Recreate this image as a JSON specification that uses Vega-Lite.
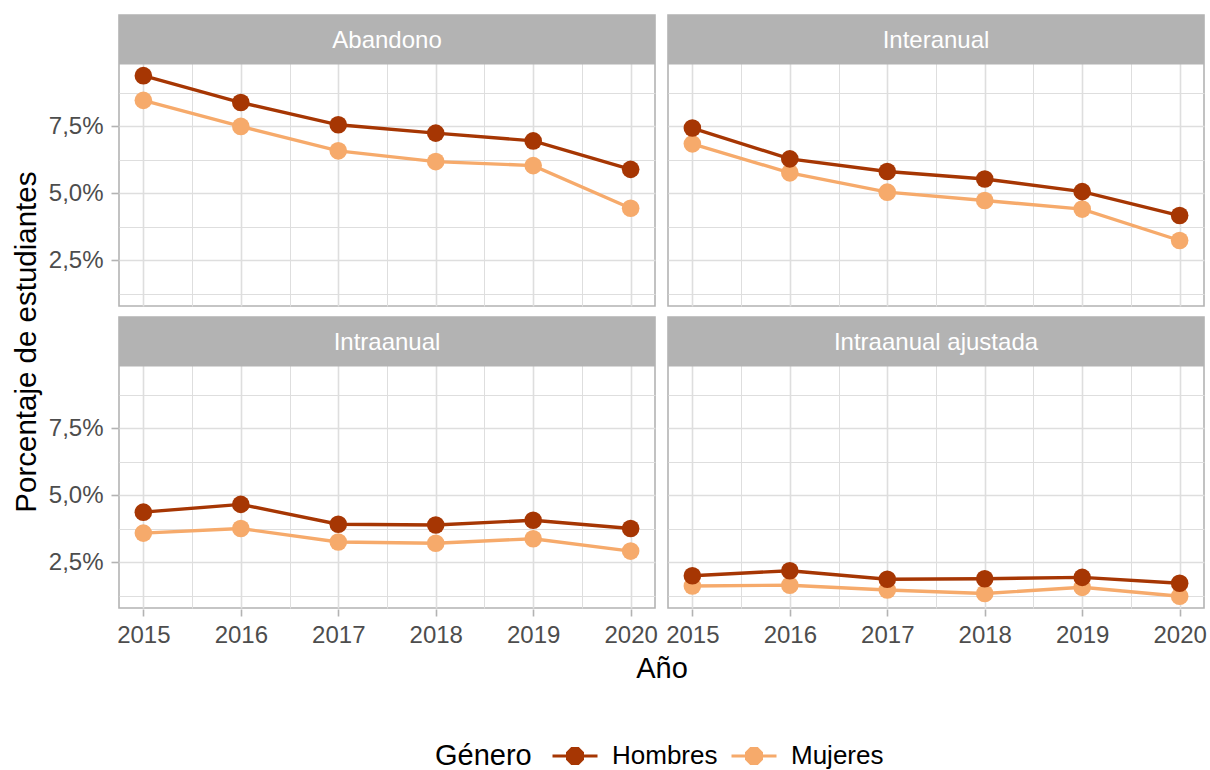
{
  "$schema": "https://vega.github.io/schema/vega-lite/v6.json",
  "padding": {"left": 11, "top": 13, "right": 5, "bottom": 0},
  "background": "white",
  "title": {"text": "Porcentaje de estudiantes", "orient": "left", "anchor": "middle", "fontSize": 29.5, "fontWeight": "normal", "color": "black", "offset": 6, "dx": 50},
  "data": {"values": [
    {"tasa": "Abandono", "genero": "Mujeres", "year": 2015, "valor": 8.46},
    {"tasa": "Abandono", "genero": "Mujeres", "year": 2016, "valor": 7.49},
    {"tasa": "Abandono", "genero": "Mujeres", "year": 2017, "valor": 6.58},
    {"tasa": "Abandono", "genero": "Mujeres", "year": 2018, "valor": 6.18},
    {"tasa": "Abandono", "genero": "Mujeres", "year": 2019, "valor": 6.03},
    {"tasa": "Abandono", "genero": "Mujeres", "year": 2020, "valor": 4.44},
    {"tasa": "Interanual", "genero": "Mujeres", "year": 2015, "valor": 6.84},
    {"tasa": "Interanual", "genero": "Mujeres", "year": 2016, "valor": 5.76},
    {"tasa": "Interanual", "genero": "Mujeres", "year": 2017, "valor": 5.04},
    {"tasa": "Interanual", "genero": "Mujeres", "year": 2018, "valor": 4.73},
    {"tasa": "Interanual", "genero": "Mujeres", "year": 2019, "valor": 4.41},
    {"tasa": "Interanual", "genero": "Mujeres", "year": 2020, "valor": 3.24},
    {"tasa": "Intraanual", "genero": "Mujeres", "year": 2015, "valor": 3.59},
    {"tasa": "Intraanual", "genero": "Mujeres", "year": 2016, "valor": 3.76},
    {"tasa": "Intraanual", "genero": "Mujeres", "year": 2017, "valor": 3.26},
    {"tasa": "Intraanual", "genero": "Mujeres", "year": 2018, "valor": 3.21},
    {"tasa": "Intraanual", "genero": "Mujeres", "year": 2019, "valor": 3.38},
    {"tasa": "Intraanual", "genero": "Mujeres", "year": 2020, "valor": 2.92},
    {"tasa": "Intraanual ajustada", "genero": "Mujeres", "year": 2015, "valor": 1.62},
    {"tasa": "Intraanual ajustada", "genero": "Mujeres", "year": 2016, "valor": 1.65},
    {"tasa": "Intraanual ajustada", "genero": "Mujeres", "year": 2017, "valor": 1.47},
    {"tasa": "Intraanual ajustada", "genero": "Mujeres", "year": 2018, "valor": 1.34},
    {"tasa": "Intraanual ajustada", "genero": "Mujeres", "year": 2019, "valor": 1.57},
    {"tasa": "Intraanual ajustada", "genero": "Mujeres", "year": 2020, "valor": 1.24},
    {"tasa": "Abandono", "genero": "Hombres", "year": 2015, "valor": 9.38},
    {"tasa": "Abandono", "genero": "Hombres", "year": 2016, "valor": 8.38},
    {"tasa": "Abandono", "genero": "Hombres", "year": 2017, "valor": 7.55},
    {"tasa": "Abandono", "genero": "Hombres", "year": 2018, "valor": 7.24},
    {"tasa": "Abandono", "genero": "Hombres", "year": 2019, "valor": 6.95},
    {"tasa": "Abandono", "genero": "Hombres", "year": 2020, "valor": 5.89},
    {"tasa": "Interanual", "genero": "Hombres", "year": 2015, "valor": 7.43},
    {"tasa": "Interanual", "genero": "Hombres", "year": 2016, "valor": 6.28},
    {"tasa": "Interanual", "genero": "Hombres", "year": 2017, "valor": 5.81},
    {"tasa": "Interanual", "genero": "Hombres", "year": 2018, "valor": 5.53},
    {"tasa": "Interanual", "genero": "Hombres", "year": 2019, "valor": 5.06},
    {"tasa": "Interanual", "genero": "Hombres", "year": 2020, "valor": 4.17},
    {"tasa": "Intraanual", "genero": "Hombres", "year": 2015, "valor": 4.37},
    {"tasa": "Intraanual", "genero": "Hombres", "year": 2016, "valor": 4.66},
    {"tasa": "Intraanual", "genero": "Hombres", "year": 2017, "valor": 3.92},
    {"tasa": "Intraanual", "genero": "Hombres", "year": 2018, "valor": 3.89},
    {"tasa": "Intraanual", "genero": "Hombres", "year": 2019, "valor": 4.07},
    {"tasa": "Intraanual", "genero": "Hombres", "year": 2020, "valor": 3.76},
    {"tasa": "Intraanual ajustada", "genero": "Hombres", "year": 2015, "valor": 2.00},
    {"tasa": "Intraanual ajustada", "genero": "Hombres", "year": 2016, "valor": 2.19},
    {"tasa": "Intraanual ajustada", "genero": "Hombres", "year": 2017, "valor": 1.87},
    {"tasa": "Intraanual ajustada", "genero": "Hombres", "year": 2018, "valor": 1.89},
    {"tasa": "Intraanual ajustada", "genero": "Hombres", "year": 2019, "valor": 1.94},
    {"tasa": "Intraanual ajustada", "genero": "Hombres", "year": 2020, "valor": 1.72}
  ]},
  "facet": {
    "field": "tasa", "type": "nominal",
    "sort": ["Abandono", "Interanual", "Intraanual", "Intraanual ajustada"],
    "header": {"labels": false, "labelExpr": "''", "labelFontSize": 1, "labelPadding": 0, "title": "Año", "titleOrient": "bottom", "titleFontSize": 29, "titleFontWeight": "normal", "titleColor": "black", "titlePadding": 8}
  },
  "columns": 2,
  "spacing": {"row": 8, "column": 11},
  "spec": {
    "width": 536,
    "height": 291,
    "layer": [
      {
        "mark": {"type": "line", "strokeWidth": 3.4},
        "encoding": {
          "x": {"field": "year", "type": "quantitative",
            "scale": {"domain": [2014.75, 2020.25], "nice": false, "zero": false},
            "axis": {"title": null, "values": [2015, 2015.5, 2016, 2016.5, 2017, 2017.5, 2018, 2018.5, 2019, 2019.5, 2020],
              "labelExpr": "datum.value % 1 === 0 ? format(datum.value, 'd') : ''",
              "labelOverlap": false, "labelFlush": false, "domain": false,
              "gridColor": "#dedede",
              "gridWidth": {"condition": {"test": "datum.value % 1 !== 0", "value": 1}, "value": 1.6},
              "tickOpacity": {"condition": {"test": "datum.value % 1 !== 0", "value": 0}, "value": 1},
              "tickColor": "#b3b3b3", "tickWidth": 1.6, "tickSize": 7,
              "labelFontSize": 24, "labelColor": "#4d4d4d", "labelPadding": 7}},
          "y": {"field": "valor", "type": "quantitative",
            "scale": {"domain": [0.8, 11.64], "nice": false, "zero": false},
            "axis": {"title": null, "values": [1.25, 2.5, 3.75, 5, 6.25, 7.5, 8.75],
              "labelExpr": "datum.value % 2.5 === 0 ? replace(format(datum.value, '.1f'), '.', ',') + '%' : ''",
              "labelOverlap": false, "labelFlush": false, "domain": false,
              "gridColor": "#dedede",
              "gridWidth": {"condition": {"test": "datum.value % 2.5 !== 0", "value": 1}, "value": 1.6},
              "tickOpacity": {"condition": {"test": "datum.value % 2.5 !== 0", "value": 0}, "value": 1},
              "tickColor": "#b3b3b3", "tickWidth": 1.6, "tickSize": 7,
              "labelFontSize": 24, "labelColor": "#4d4d4d", "labelPadding": 8}},
          "color": {"field": "genero", "type": "nominal",
            "scale": {"domain": ["Hombres", "Mujeres"], "range": ["#a63603", "#f6aa6b"]},
            "legend": {"title": "Género", "orient": "none", "legendX": 316, "legendY": 728, "direction": "horizontal", "titleOrient": "left",
              "padding": 0, "titleAnchor": "middle",
              "titleFontSize": 29, "titleFontWeight": "normal", "titleColor": "black", "titlePadding": 30,
              "labelFontSize": 26, "labelColor": "black", "labelOffset": 24, "columnPadding": 13,
              "symbolType": "M-2.25,-0.15L-0.9,-0.15L-0.9,-0.38L-0.38,-0.9L0.38,-0.9L0.9,-0.38L0.9,-0.15L2.25,-0.15L2.25,0.15L0.9,0.15L0.9,0.38L0.38,0.9L-0.38,0.9L-0.9,0.38L-0.9,0.15L-2.25,0.15Z",
              "symbolSize": 400, "symbolStrokeWidth": 0, "symbolOpacity": 1}}
        }
      },
      {
        "mark": {"type": "circle", "size": 310, "opacity": 1},
        "encoding": {
          "x": {"field": "year", "type": "quantitative"},
          "y": {"field": "valor", "type": "quantitative"},
          "color": {"field": "genero", "type": "nominal"}
        }
      },
      {
        "transform": [{"filter": "datum.year === 2015 && datum.genero === 'Hombres'"}],
        "mark": {"type": "rect", "color": "#b3b3b3"},
        "encoding": {
          "x": {"datum": 2014.75}, "x2": {"datum": 2020.25},
          "y": {"datum": 9.8}, "y2": {"datum": 11.64}
        }
      },
      {
        "transform": [{"filter": "datum.year === 2015 && datum.genero === 'Hombres'"}],
        "mark": {"type": "text", "color": "white", "fontSize": 24, "baseline": "middle", "align": "center"},
        "encoding": {
          "x": {"datum": 2017.5},
          "y": {"datum": 10.68},
          "text": {"field": "tasa", "type": "nominal"}
        }
      }
    ]
  },
  "config": {
    "font": "Liberation Sans",
    "view": {"stroke": "#b3b3b3", "strokeWidth": 1.6},
    "axis": {"labelFont": "Liberation Sans", "titleFont": "Liberation Sans"},
    "legend": {"labelFont": "Liberation Sans", "titleFont": "Liberation Sans"}
  }
}
